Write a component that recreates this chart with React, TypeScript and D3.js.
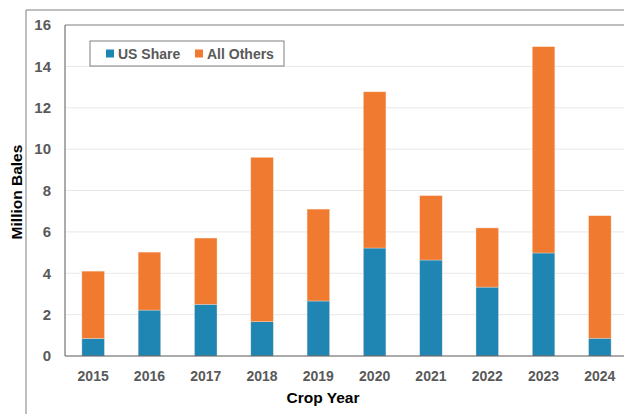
import React from "react";
import * as d3 from "d3";

const years = ["2015","2016","2017","2018","2019","2020","2021","2022","2023","2024"];
const usShare = [0.85, 2.22, 2.5, 1.66, 2.66, 5.22, 4.64, 3.33, 4.98, 0.86];
const allOthers = [3.25, 2.8, 3.2, 7.94, 4.44, 7.55, 3.11, 2.86, 9.97, 5.92];
const yTicks = [0, 2, 4, 6, 8, 10, 12, 14, 16];
const seriesNames = ["US Share", "All Others"];
const colors = ["#1f86b4", "#ef7a30"];

export default function App() {
  const W = 624, H = 415;
  const left = 65, top = 25, bottom = 356, right = 628;
  const x = d3.scaleBand().domain(years).range([left, right]).paddingInner(0.6).paddingOuter(0.3);
  const y = d3.scaleLinear().domain([0, 16]).range([bottom, top]);
  const rows = years.map((yr, i) => ({ year: yr, us: usShare[i], others: allOthers[i] }));
  const stack = d3.stack<any>().keys(["us", "others"])(rows);
  const font = "'Liberation Sans', Arial, sans-serif";

  return (
    <svg width={W} height={H} style={{ position: "absolute", left: 0, top: 0, background: "#fff" }} fontFamily={font}>
      <line x1={26} y1={10} x2={W} y2={10} stroke="#7f7f7f" strokeWidth={1} />
      <line x1={26} y1={10} x2={26} y2={414} stroke="#7f7f7f" strokeWidth={1} />
      {yTicks.map(t => (
        <g key={t}>
          {t > 0 && t < 16 && <line x1={left} x2={W} y1={y(t)} y2={y(t)} stroke="#e8e8e8" strokeWidth={1} />}
          <text x={51} y={y(t)} dy="0.35em" textAnchor="end" fontSize={15} fontWeight="bold" fill="#595959">{t}</text>
        </g>
      ))}
      <line x1={left} x2={W} y1={top} y2={top} stroke="#7f7f7f" strokeWidth={1} />
      <line x1={left} x2={left} y1={top} y2={bottom} stroke="#595959" strokeWidth={1} />
      {stack.map((s, si) => (
        <g key={si} fill={colors[si]}>
          {s.map((d: any, i: number) => (
            <rect key={i} x={x(years[i])!} width={x.bandwidth()} y={y(d[1])} height={y(d[0]) - y(d[1])}
              stroke="#fbe3d3" strokeWidth={0.6} strokeOpacity={0.6} />
          ))}
        </g>
      ))}
      <line x1={left} x2={W} y1={bottom} y2={bottom} stroke="#595959" strokeWidth={1.2} />
      {years.map(yr => (
        <text key={yr} x={x(yr)! + x.bandwidth() / 2} y={376} textAnchor="middle" dy="0.35em" fontSize={14} fontWeight="bold" fill="#595959">{yr}</text>
      ))}
      <text x={323} y={398} textAnchor="middle" dy="0.35em" fontSize={15.5} fontWeight="bold" fill="#000">Crop Year</text>
      <text transform={`translate(17,${192}) rotate(-90)`} textAnchor="middle" dy="0.35em" fontSize={15.5} fontWeight="bold" fill="#000">Million Bales</text>
      <rect x={90} y={41} width={194} height={25} fill="#fff" stroke="#7f7f7f" strokeWidth={1} />
      <rect x={106} y={49.5} width={8} height={8} fill={colors[0]} />
      <text x={118} y={54} dy="0.35em" fontSize={14} fontWeight="bold" fill="#595959">{seriesNames[0]}</text>
      <rect x={195} y={49.5} width={8} height={8} fill={colors[1]} />
      <text x={207} y={54} dy="0.35em" fontSize={14} fontWeight="bold" fill="#595959">{seriesNames[1]}</text>
    </svg>
  );
}
